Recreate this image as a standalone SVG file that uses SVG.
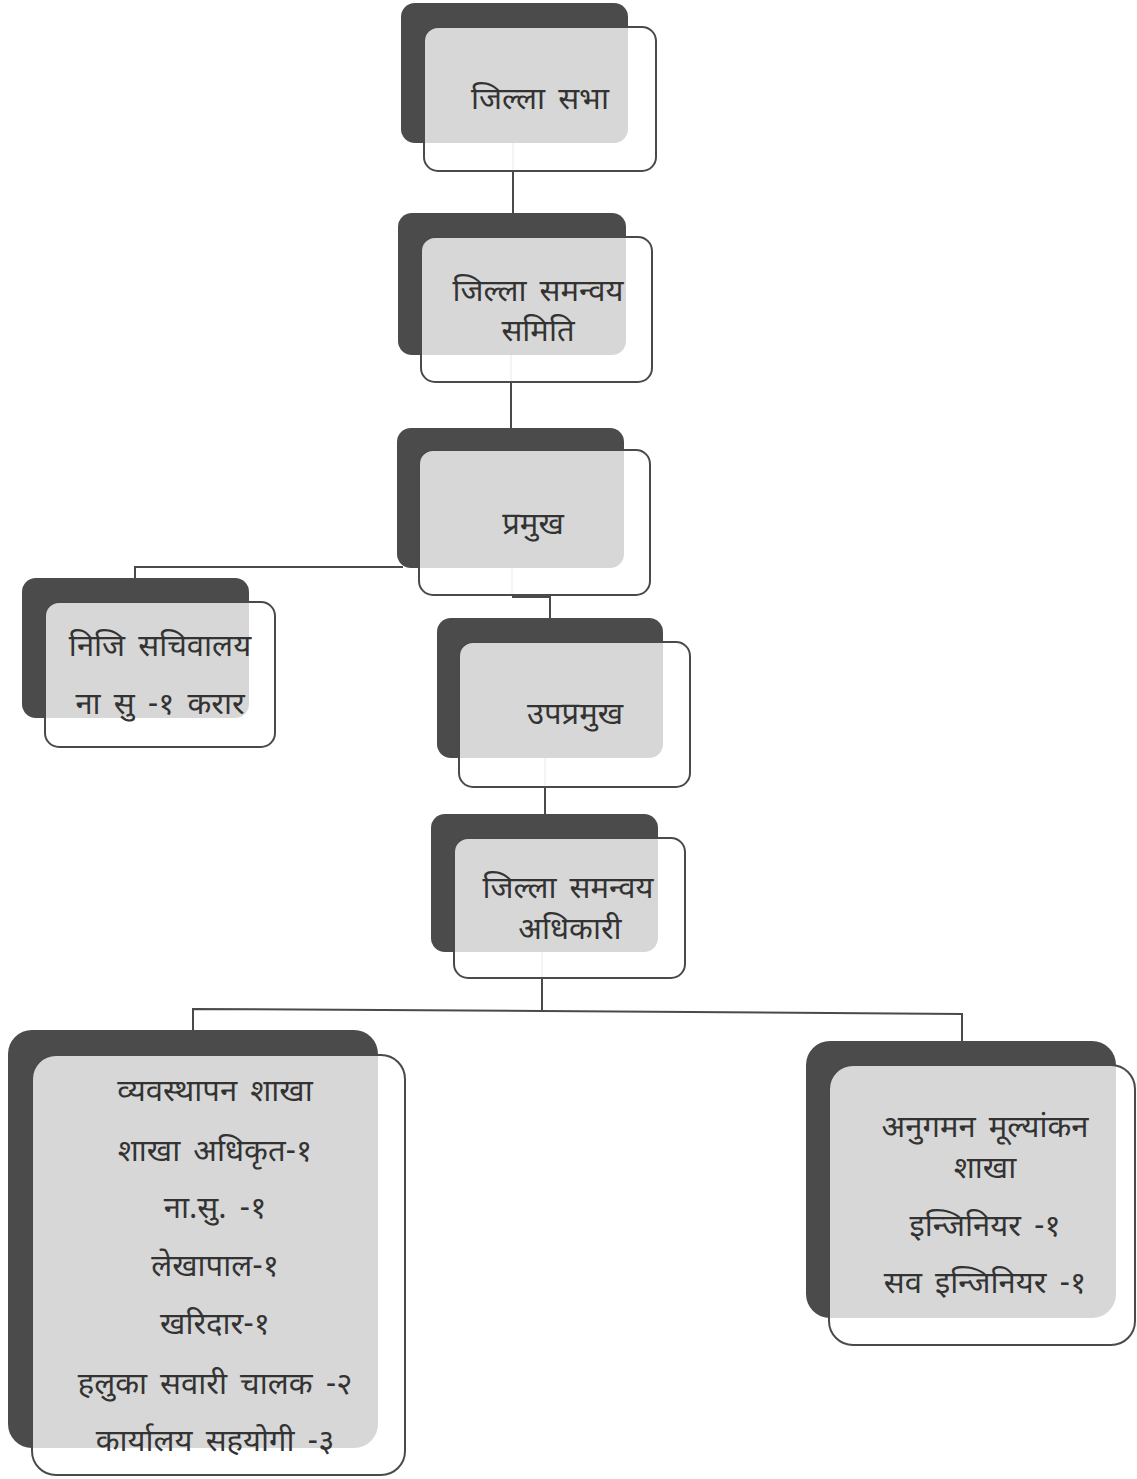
<svg xmlns="http://www.w3.org/2000/svg" width="1137" height="1479" viewBox="0 0 1137 1479">
<style>
.dk{fill:#4b4b4b}
.ol{fill:#ffffff;fill-opacity:0.78;stroke:#4a4a4a;stroke-width:2}
.t{font-family:"Noto Sans Devanagari","Noto Sans","Lohit Devanagari",sans-serif;font-size:31px;fill:#333;text-anchor:middle;word-spacing:5px}
.c{fill:none;stroke:#4a4a4a;stroke-width:2}
.cf{fill:none;stroke:#bdbdbd;stroke-width:1.5}
</style>
<rect width="1137" height="1479" fill="#ffffff"/>
<g id="connectors">
<line class="c" x1="513" y1="170" x2="513" y2="213"/>
<line class="cf" x1="513" y1="143" x2="513" y2="170"/>
<line class="c" x1="511" y1="382" x2="511" y2="428"/>
<line class="cf" x1="511" y1="355" x2="511" y2="382"/>
<polyline class="c" points="403,567 135,567 135,578"/>
<line class="cf" x1="512" y1="568" x2="512" y2="595"/>
<polyline class="c" points="512,597 550,597 550,618"/>
<line class="c" x1="545" y1="787" x2="545" y2="814"/>
<line class="cf" x1="545" y1="758" x2="545" y2="787"/>
<line class="cf" x1="542" y1="952" x2="542" y2="978"/>
<polyline class="c" points="542,978 542,1011 193,1009 193,1030"/>
<polyline class="c" points="542,1011 962,1014 962,1041"/>
</g>
<g id="n1">
<rect class="dk" x="401" y="3" width="227" height="140" rx="14"/>
<rect class="ol" x="424" y="27" width="232" height="144" rx="14"/>
<text class="t" x="540" y="109">जिल्ला सभा</text>
</g>
<g id="n2">
<rect class="dk" x="398" y="213" width="228" height="142" rx="14"/>
<rect class="ol" x="421" y="237" width="231" height="145" rx="14"/>
<text class="t" x="538" y="301">जिल्ला समन्वय</text>
<text class="t" x="538" y="341">समिति</text>
</g>
<g id="n3">
<rect class="dk" x="397" y="428" width="227" height="140" rx="14"/>
<rect class="ol" x="419" y="450" width="231" height="145" rx="14"/>
<text class="t" x="533" y="534">प्रमुख</text>
</g>
<g id="n4">
<rect class="dk" x="22" y="578" width="227" height="140" rx="14"/>
<rect class="ol" x="45" y="602" width="230" height="145" rx="14"/>
<text class="t" x="160" y="656">निजि सचिवालय</text>
<text class="t" x="160" y="714">ना सु -१ करार</text>
</g>
<g id="n5">
<rect class="dk" x="437" y="618" width="226" height="140" rx="14"/>
<rect class="ol" x="459" y="642" width="231" height="145" rx="14"/>
<text class="t" x="575" y="724">उपप्रमुख</text>
</g>
<g id="n6">
<rect class="dk" x="431" y="814" width="227" height="138" rx="14"/>
<rect class="ol" x="454" y="838" width="231" height="140" rx="14"/>
<text class="t" x="568" y="898">जिल्ला समन्वय</text>
<text class="t" x="570" y="939">अधिकारी</text>
</g>
<g id="n7">
<rect class="dk" x="8" y="1030" width="370" height="418" rx="24"/>
<rect class="ol" x="32" y="1055" width="373" height="420" rx="24"/>
<text class="t" x="215" y="1101">व्यवस्थापन शाखा</text>
<text class="t" x="215" y="1161">शाखा अधिकृत-१</text>
<text class="t" x="215" y="1218">ना.सु. -१</text>
<text class="t" x="215" y="1276">लेखापाल-१</text>
<text class="t" x="215" y="1334">खरिदार-१</text>
<text class="t" x="215" y="1394">हलुका सवारी चालक -२</text>
<text class="t" x="215" y="1451">कार्यालय सहयोगी -३</text>
</g>
<g id="n8">
<rect class="dk" x="806" y="1041" width="310" height="277" rx="24"/>
<rect class="ol" x="829" y="1065" width="306" height="280" rx="24"/>
<text class="t" x="985" y="1137">अनुगमन मूल्यांकन</text>
<text class="t" x="985" y="1178">शाखा</text>
<text class="t" x="985" y="1236">इन्जिनियर -१</text>
<text class="t" x="985" y="1293">सव इन्जिनियर -१</text>
</g>
</svg>
